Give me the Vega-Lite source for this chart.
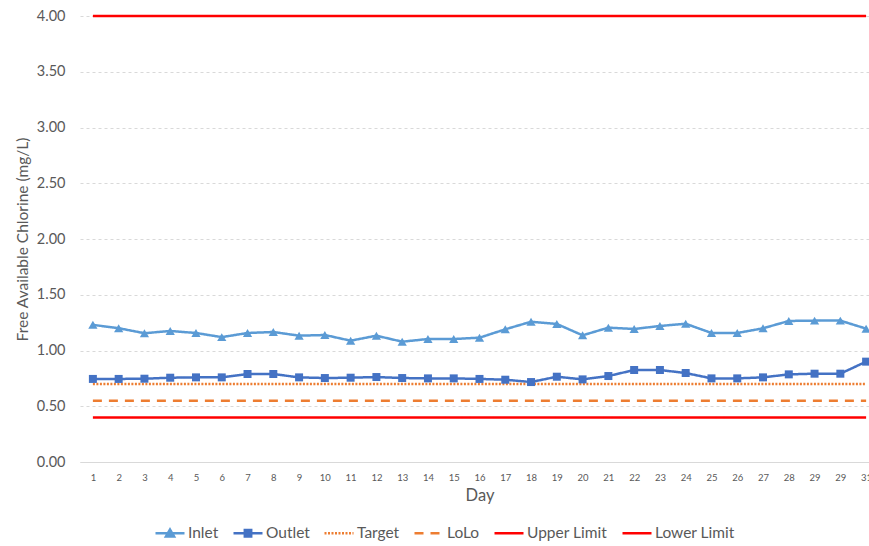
{
  "$schema": "https://vega.github.io/schema/vega-lite/v6.json",
  "width": 799,
  "height": 446,
  "autosize": "none",
  "padding": {"left": 80, "top": 16, "right": 0, "bottom": 84},
  "background": "white",
  "config": {
    "font": "Lato",
    "view": {"stroke": null},
    "axis": {"labelColor": "#595959", "titleColor": "#595959", "titleFontWeight": "normal"}
  },
  "data": {
    "values": [
      {"day": 1, "series": "Inlet", "value": 1.23},
      {"day": 2, "series": "Inlet", "value": 1.20},
      {"day": 3, "series": "Inlet", "value": 1.155},
      {"day": 4, "series": "Inlet", "value": 1.175},
      {"day": 5, "series": "Inlet", "value": 1.157},
      {"day": 6, "series": "Inlet", "value": 1.12},
      {"day": 7, "series": "Inlet", "value": 1.157},
      {"day": 8, "series": "Inlet", "value": 1.166},
      {"day": 9, "series": "Inlet", "value": 1.133},
      {"day": 10, "series": "Inlet", "value": 1.139},
      {"day": 11, "series": "Inlet", "value": 1.088},
      {"day": 12, "series": "Inlet", "value": 1.133},
      {"day": 13, "series": "Inlet", "value": 1.079},
      {"day": 14, "series": "Inlet", "value": 1.103},
      {"day": 15, "series": "Inlet", "value": 1.103},
      {"day": 16, "series": "Inlet", "value": 1.115},
      {"day": 17, "series": "Inlet", "value": 1.19},
      {"day": 18, "series": "Inlet", "value": 1.258},
      {"day": 19, "series": "Inlet", "value": 1.238},
      {"day": 20, "series": "Inlet", "value": 1.136},
      {"day": 21, "series": "Inlet", "value": 1.205},
      {"day": 22, "series": "Inlet", "value": 1.193},
      {"day": 23, "series": "Inlet", "value": 1.22},
      {"day": 24, "series": "Inlet", "value": 1.24},
      {"day": 25, "series": "Inlet", "value": 1.157},
      {"day": 26, "series": "Inlet", "value": 1.157},
      {"day": 27, "series": "Inlet", "value": 1.199},
      {"day": 28, "series": "Inlet", "value": 1.265},
      {"day": 29, "series": "Inlet", "value": 1.268},
      {"day": 30, "series": "Inlet", "value": 1.268},
      {"day": 31, "series": "Inlet", "value": 1.196},
      {"day": 1, "series": "Outlet", "value": 0.745},
      {"day": 2, "series": "Outlet", "value": 0.745},
      {"day": 3, "series": "Outlet", "value": 0.747},
      {"day": 4, "series": "Outlet", "value": 0.756},
      {"day": 5, "series": "Outlet", "value": 0.759},
      {"day": 6, "series": "Outlet", "value": 0.759},
      {"day": 7, "series": "Outlet", "value": 0.789},
      {"day": 8, "series": "Outlet", "value": 0.789},
      {"day": 9, "series": "Outlet", "value": 0.759},
      {"day": 10, "series": "Outlet", "value": 0.753},
      {"day": 11, "series": "Outlet", "value": 0.756},
      {"day": 12, "series": "Outlet", "value": 0.762},
      {"day": 13, "series": "Outlet", "value": 0.753},
      {"day": 14, "series": "Outlet", "value": 0.75},
      {"day": 15, "series": "Outlet", "value": 0.75},
      {"day": 16, "series": "Outlet", "value": 0.745},
      {"day": 17, "series": "Outlet", "value": 0.738},
      {"day": 18, "series": "Outlet", "value": 0.717},
      {"day": 19, "series": "Outlet", "value": 0.765},
      {"day": 20, "series": "Outlet", "value": 0.741},
      {"day": 21, "series": "Outlet", "value": 0.771},
      {"day": 22, "series": "Outlet", "value": 0.825},
      {"day": 23, "series": "Outlet", "value": 0.825},
      {"day": 24, "series": "Outlet", "value": 0.798},
      {"day": 25, "series": "Outlet", "value": 0.75},
      {"day": 26, "series": "Outlet", "value": 0.75},
      {"day": 27, "series": "Outlet", "value": 0.759},
      {"day": 28, "series": "Outlet", "value": 0.786},
      {"day": 29, "series": "Outlet", "value": 0.792},
      {"day": 30, "series": "Outlet", "value": 0.792},
      {"day": 31, "series": "Outlet", "value": 0.90},
      {"day": 1, "series": "Target", "value": 0.70},
      {"day": 31, "series": "Target", "value": 0.70},
      {"day": 1, "series": "LoLo", "value": 0.55},
      {"day": 31, "series": "LoLo", "value": 0.55},
      {"day": 1, "series": "Upper Limit", "value": 4.0},
      {"day": 31, "series": "Upper Limit", "value": 4.0},
      {"day": 1, "series": "Lower Limit", "value": 0.40},
      {"day": 31, "series": "Lower Limit", "value": 0.40}
    ]
  },
  "encoding": {
    "x": {
      "field": "day",
      "type": "quantitative",
      "scale": {"domain": [0.5, 31.5], "nice": false, "zero": false},
      "axis": {
        "values": [1,2,3,4,5,6,7,8,9,10,11,12,13,14,15,16,17,18,19,20,21,22,23,24,25,26,27,28,29,30,31],
        "labelExpr": "datum.value === 30 ? '29' : datum.label",
        "format": "d",
        "grid": false,
        "ticks": false,
        "domain": true,
        "domainColor": "#D9D9D9",
        "domainWidth": 1,
        "labelFontSize": 9.5,
        "labelPadding": 10,
        "labelAngle": 0,
        "labelOverlap": false,
        "labelFlush": false,
        "title": "Day",
        "titleFontSize": 16.5,
        "titlePadding": 6
      }
    },
    "y": {
      "field": "value",
      "type": "quantitative",
      "scale": {"domain": [0, 4], "nice": false},
      "axis": {
        "values": [0, 0.5, 1, 1.5, 2, 2.5, 3, 3.5, 4],
        "format": ".2f",
        "grid": true,
        "gridColor": "#D9D9D9",
        "gridDash": [3, 3],
        "gridWidth": 1,
        "domain": false,
        "ticks": false,
        "labelFontSize": 14.5,
        "labelPadding": 15,
        "title": "Free Available Chlorine (mg/L)",
        "titleFontSize": 15.5,
        "titlePadding": 6
      }
    }
  },
  "layer": [
    {
      "mark": {"type": "line", "strokeWidth": 2.5},
      "encoding": {
        "color": {
          "field": "series",
          "type": "nominal",
          "scale": {
            "domain": ["Inlet", "Outlet", "Target", "LoLo", "Upper Limit", "Lower Limit"],
            "range": ["#5B9BD5", "#4472C4", "#ED7D31", "#ED7D31", "#FF0000", "#FF0000"]
          },
          "legend": {
            "orient": "none",
            "legendX": 74,
            "legendY": 501,
            "direction": "horizontal",
            "title": null,
            "symbolType": "stroke",
            "symbolSize": 841,
            "symbolStrokeWidth": 2.5,
            "labelFontSize": 15.5,
            "labelColor": "#595959",
            "labelOffset": 2,
            "columnPadding": 9,
            "encode": {
              "symbols": {
                "update": {
                  "shape": {"signal": "datum.value === 'Inlet' ? 'M-1,0H1M-0.28,0.22L0,-0.26L0.28,0.22Z' : datum.value === 'Outlet' ? 'M-1,0H1M-0.22,-0.22H0.22V0.22H-0.22Z' : 'stroke'"},
                  "fill": {"signal": "datum.value === 'Inlet' ? '#5B9BD5' : datum.value === 'Outlet' ? '#4472C4' : 'transparent'"}
                }
              }
            }
          }
        },
        "strokeDash": {
          "field": "series",
          "type": "nominal",
          "scale": {
            "domain": ["Inlet", "Outlet", "Target", "LoLo", "Upper Limit", "Lower Limit"],
            "range": [[1, 0], [1, 0], [2, 1.5], [9, 7], [1, 0], [1, 0]]
          }
        }
      }
    },
    {
      "transform": [{"filter": "datum.series === 'Inlet'"}],
      "mark": {"type": "point", "shape": "triangle-up", "filled": true, "size": 85, "opacity": 1},
      "encoding": {
        "color": {"field": "series", "type": "nominal", "legend": null}
      }
    },
    {
      "transform": [{"filter": "datum.series === 'Outlet'"}],
      "mark": {"type": "point", "shape": "square", "filled": true, "size": 64, "opacity": 1},
      "encoding": {
        "color": {"field": "series", "type": "nominal", "legend": null}
      }
    }
  ]
}
